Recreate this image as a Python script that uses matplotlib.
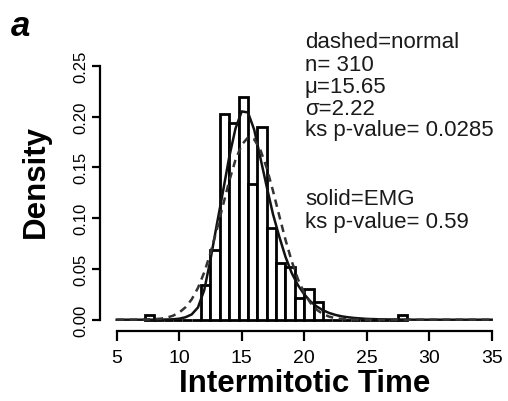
import numpy as np
import matplotlib
matplotlib.use('Agg')
import matplotlib.pyplot as plt

plt.rcParams['font.family'] = ['Liberation Sans', 'DejaVu Sans']

# histogram of intermitotic times (counts per 0.75 bin, starting at 7.25)
n_cells = 310
bin_start = 7.25
bin_width = 0.75
bin_counts = [1, 0, 0, 0, 0, 0, 8, 16, 47, 45, 51, 31, 44, 21, 13, 12, 5, 7, 4,
              0, 0, 0, 0, 0, 0, 0, 0, 1]

# fitted densities
curve_x = [5, 6, 7, 7.5, 8, 8.5, 9, 9.5, 10, 10.5, 11, 11.5, 12, 12.5, 13, 13.5,
           14, 14.5, 15, 15.5, 16, 16.5, 17, 17.5, 18, 18.5, 19, 19.5, 20, 20.5,
           21, 21.5, 22, 22.5, 23, 23.5, 24, 25, 26, 27, 28, 29, 30, 31, 32, 33, 34, 35]
normal_y = [0, 0, 0.0001, 0.0002, 0.0005, 0.0010, 0.0020, 0.0039, 0.0070, 0.0122,
            0.0200, 0.0313, 0.0465, 0.0656, 0.0881, 0.1124, 0.1364, 0.1572, 0.1722,
            0.1793, 0.1775, 0.1670, 0.1494, 0.1270, 0.1026, 0.0788, 0.0576, 0.0399,
            0.0264, 0.0165, 0.0098, 0.0056, 0.0030, 0.0015, 0.0007, 0.0003, 0.0001,
            0, 0, 0, 0, 0, 0, 0, 0, 0, 0, 0]
emg_y = [0, 0, 0, 0, 0, 0.0001, 0.0002, 0.0004, 0.0010, 0.0024, 0.0052, 0.012,
         0.029, 0.059, 0.093, 0.126, 0.160, 0.188, 0.205, 0.204, 0.187, 0.159,
         0.131, 0.104, 0.082, 0.062, 0.046, 0.034, 0.025, 0.018, 0.013, 0.0093,
         0.0066, 0.0047, 0.0033, 0.0024, 0.0017, 0.0008, 0.0004, 0.0002, 0.0001,
         0, 0, 0, 0, 0, 0, 0]

x_ticks = [5, 10, 15, 20, 25, 30, 35]
y_ticks = [0.00, 0.05, 0.10, 0.15, 0.20, 0.25]

note_lines = ['dashed=normal', 'n= 310', '\u03bc=15.65', '\u03c3=2.22',
              'ks p-value= 0.0285', 'solid=EMG', 'ks p-value= 0.59']
note_baselines = [48, 71, 93, 115, 136, 205, 228]  # pixels from top

W, H = 508, 402
fig = plt.figure(figsize=(W / 100, H / 100), dpi=100)
ax = fig.add_axes([116.7 / W, 81.3 / H, 375 / W, 254 / H])

lefts = bin_start + bin_width * np.arange(len(bin_counts))
dens = np.array(bin_counts) / (n_cells * bin_width)
ax.bar(lefts, dens, width=bin_width, align='edge', color='white',
       edgecolor='black', linewidth=2, clip_on=False, zorder=2)

ax.plot(curve_x, emg_y, color='#111111', lw=1.8, clip_on=False, zorder=3)
ax.plot(curve_x, normal_y, color='#333333', lw=1.8, ls=(0, (3, 2.2)),
        clip_on=False, zorder=3)

ax.set_xlim(5, 35)
ax.set_ylim(0, 0.25)
ax.set_xticks(x_ticks)
ax.set_yticks(y_ticks)
ax.set_xticklabels([str(v) for v in x_ticks])
ax.set_yticklabels(['%.2f' % v for v in y_ticks])

for s in ['top', 'right']:
    ax.spines[s].set_visible(False)
ax.spines['left'].set_position(('outward', 12))
ax.spines['bottom'].set_position(('outward', 8))
ax.spines['left'].set_bounds(0, 0.25)
ax.spines['bottom'].set_bounds(5, 35)
for s in ['left', 'bottom']:
    ax.spines[s].set_linewidth(1.6)

ax.tick_params(axis='x', length=7, width=1.6, pad=6, labelsize=14)
ax.tick_params(axis='y', length=5.5, width=1.6, pad=3, labelsize=12)
for lab in ax.get_yticklabels():
    lab.set_rotation(90)
    lab.set_va('center')
    lab.set_ha('right')

ax.set_xlabel('Intermitotic Time', fontsize=22.5, fontweight='bold', labelpad=1.5)
ax.set_ylabel('Density', fontsize=22.5, fontweight='bold', va='center')
ax.yaxis.set_label_coords((36 - 116.7) / 375, (320.7 - 182) / 254)

fig.text(21 / W, 1 - 27 / H, 'a', fontsize=25, fontweight='bold',
         fontstyle='italic', ha='center', va='center')

for line, yb in zip(note_lines, note_baselines):
    fig.text(305 / W, 1 - yb / H, line, fontsize=16, va='baseline', ha='left',
             color='#1a1a1a')

fig.savefig('out.png', dpi=100)
